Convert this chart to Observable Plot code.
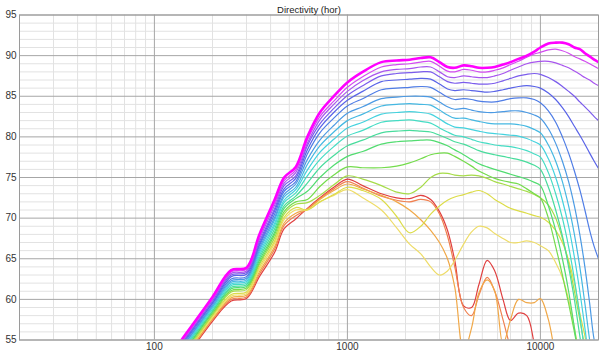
<!DOCTYPE html>
<html><head><meta charset="utf-8">
<script src="https://cdn.jsdelivr.net/npm/d3@7"></script>
<script src="https://cdn.jsdelivr.net/npm/@observablehq/plot@0.6"></script>
<style>
html,body{margin:0;padding:0;background:#fff;}
</style></head><body><div id="chart"></div>
<script>
const title = "Directivity (hor)";
const freqs = [120,160,200,250,300,350,420,470,540,620,720,850,1000,1200,1500,1800,2100,2400,2700,3000,3300,3600,4000,4400,4800,5300,5800,6400,7000,7700,8500,9300,10000,11000,12000,13000,14000,15000,16000,17000,18000,19000,20000];

const deg0 = [53.0,57.1,60.3,63.6,63.9,68.0,72.3,75.0,76.3,80.0,83.0,85.0, 86.7,88.0,89.2,89.4,89.5,89.7,89.8,89.2,88.6,88.5,88.8,88.7,88.5,88.5,88.6,88.9,89.2,89.6,90.0,90.5,91.0,91.5,91.6,91.6,91.4,91.0,90.8,90.3,89.9,89.5,89.2];
const deg10 = [52.9,56.9,60.1,63.4,63.7,67.7,71.9,74.6,75.9,79.6,82.5,84.4, 86.1,87.4,88.6,88.9,89.0,89.2,89.3,88.7,88.1,88.0,88.3,88.2,88.0,88.0,88.2,88.5,88.9,89.3,89.8,90.2,90.4,90.7,90.8,90.6,90.3,89.9,89.6,89.3,89.0,88.7,88.4];
const deg20 = [52.7,56.8,60.0,63.2,63.5,67.4,71.6,74.3,75.6,79.2,82.1,84.0, 85.6,86.9,88.0,88.3,88.4,88.6,88.6,88.0,87.4,87.3,87.5,87.4,87.3,87.3,87.5,87.8,88.2,88.6,89.0,89.2,89.3,89.3,89.1,88.8,88.5,88.1,87.7,87.3,87.0,86.6,86.3];
const deg30 = [52.6,56.6,59.8,63.0,63.3,67.1,71.2,74.0,75.2,78.9,81.6,83.5, 85.1,86.3,87.5,87.8,87.9,88.0,88.0,87.4,86.8,86.6,86.7,86.6,86.5,86.5,86.6,86.9,87.2,87.5,87.7,87.8,87.7,87.3,86.8,86.2,85.6,85.0,84.3,83.7,83.1,82.5,82.0];
const deg40 = [52.4,56.5,59.6,62.8,63.1,66.8,70.9,73.6,74.9,78.4,81.1,83.0, 84.5,85.6,86.8,87.0,87.1,87.2,87.1,86.5,85.9,85.7,85.8,85.7,85.6,85.5,85.6,85.8,86.0,86.2,86.3,86.2,86.0,85.4,84.6,83.6,82.5,81.3,80.2,79.1,78.0,77.0,76.1];
const deg50 = [52.3,56.3,59.5,62.5,62.8,66.6,70.5,73.3,74.5,77.9,80.5,82.3, 83.8,84.7,85.8,86.0,86.1,86.2,86.1,85.5,84.9,84.6,84.7,84.6,84.4,84.3,84.3,84.5,84.7,84.8,84.8,84.6,84.2,83.2,81.8,80.0,78.0,75.8,73.5,71.0,68.5,66.5,65.0];
const deg60 = [52.1,56.1,59.3,62.3,62.6,66.3,70.1,72.9,74.2,77.2,79.6,81.4, 82.9,83.7,84.7,84.9,85.0,85.0,84.9,84.3,83.7,83.4,83.5,83.3,83.1,83.0,83.0,83.1,83.2,83.2,83.0,82.7,82.3,81.0,79.2,77.0,74.5,71.5,68.0,64.0,59.5,55.0,53.0];
const deg70 = [52.0,56.0,59.1,62.1,62.4,66.0,69.8,72.6,73.8,76.6,78.9,80.6, 82.0,82.8,83.8,84.0,84.1,84.0,83.9,83.3,82.7,82.3,82.3,82.1,81.9,81.7,81.6,81.6,81.6,81.5,81.3,80.9,80.5,79.0,77.0,74.5,71.5,68.0,64.0,59.5,55.0,51.5,50.0];
const deg80 = [51.8,55.8,59.0,61.9,62.2,65.7,69.4,72.2,73.5,75.9,78.1,79.7, 81.1,81.8,82.8,83.0,83.1,83.0,82.8,82.2,81.6,81.2,81.1,80.9,80.7,80.5,80.4,80.3,80.2,80.1,79.8,79.4,79.0,77.3,75.0,72.2,69.0,65.2,61.0,56.5,52.0,49.0,48.0];
const deg90 = [51.7,55.7,58.8,61.7,62.0,65.4,69.1,71.9,73.1,75.2,77.2,78.8, 80.1,80.8,81.8,82.0,82.1,81.9,81.7,81.1,80.6,80.2,80.0,79.7,79.4,79.2,79.0,78.9,78.8,78.6,78.3,77.9,77.5,75.6,73.0,70.0,66.5,62.5,58.0,53.5,50.0,48.0,47.0];
const deg100 = [51.5,55.5,58.6,61.5,61.8,65.1,68.7,71.5,72.7,74.3,76.2,77.7, 78.9,79.6,80.5,80.7,80.8,80.7,80.6,80.2,79.8,79.4,79.1,78.7,78.3,78.0,77.8,77.6,77.4,77.2,76.9,76.5,76.0,73.8,71.0,67.8,64.0,60.0,55.5,51.5,49.0,47.0,46.0];
const deg110 = [51.4,55.3,58.5,61.3,61.6,64.8,68.3,71.2,72.4,73.3,75.0,76.5, 77.6,78.2,79.1,79.4,79.5,79.6,79.6,79.3,78.9,78.4,77.8,77.2,76.7,76.3,76.0,75.7,75.4,75.1,74.8,74.4,74.0,71.5,68.5,65.0,61.0,56.5,52.0,49.0,47.0,46.0,45.0];
const deg120 = [51.2,55.2,58.3,61.1,61.4,64.5,68.0,70.8,72.0,72.3,73.9,75.3, 76.3,76.2,76.2,76.4,76.8,77.3,77.8,78.0,78.0,77.6,77.0,76.4,75.8,75.3,74.9,74.6,74.4,74.2,73.6,73.0,72.5,70.0,66.5,63.0,59.5,56.0,52.5,49.5,47.0,46.0,45.0];
const deg130 = [51.1,55.0,58.1,60.9,61.2,64.3,67.6,70.5,71.7,71.9,72.8,74.1, 75.2,74.8,74.0,73.2,73.0,73.8,75.0,75.5,75.5,75.3,75.2,75.3,75.2,74.9,74.5,74.2,73.9,73.6,73.3,72.9,72.5,71.6,70.0,67.5,64.5,61.0,57.5,54.0,51.0,49.0,48.0];
const deg140 = [50.9,54.8,58.0,60.6,60.9,64.0,67.2,70.1,71.3,71.0,72.0,72.9, 73.8,73.4,72.3,70.2,68.2,69.0,70.5,71.5,72.2,72.6,72.9,73.2,73.4,73.0,72.3,71.7,71.2,70.9,70.6,70.3,70.1,69.5,68.5,67.0,64.8,62.0,58.3,55.5,52.0,50.0,48.0];
const deg150 = [50.8,54.7,57.8,60.4,60.7,63.7,66.9,69.8,71.0,71.0,72.0,72.8, 73.5,72.5,71.0,68.8,66.8,65.6,64.0,63.0,63.5,64.8,66.8,68.3,69.0,68.8,68.1,67.5,67.0,67.0,67.2,67.0,66.6,66.0,64.5,62.7,60.0,56.5,53.0,50.5,49.0,48.0,47.0];
const deg160 = [50.6,54.5,57.6,60.2,60.5,63.4,66.5,69.4,70.6,71.1,72.3,73.4, 74.2,73.6,72.8,72.0,71.0,69.8,68.5,67.0,65.0,61.5,53.5,56.5,60.8,62.4,61.0,54.5,57.5,60.0,59.6,59.6,60.1,57.5,53.0,50.0,48.0,47.0,46.0,46.0,45.0,45.0,45.0];
const deg170 = [50.5,54.4,57.5,60.0,60.3,63.1,66.2,69.1,70.3,71.1,72.4,73.6, 74.5,73.7,72.7,72.2,72.0,72.3,72.0,70.5,67.8,64.0,59.0,58.0,60.5,62.7,61.0,57.5,54.0,51.0,49.0,47.0,46.0,45.0,45.0,45.0,45.0,45.0,45.0,45.0,45.0,45.0,45.0];
const deg180 = [50.3,54.2,57.3,59.8,60.1,62.8,65.8,68.7,69.9,71.2,72.5,73.8, 74.8,74.0,73.0,72.5,72.4,72.8,72.3,70.8,68.5,64.8,59.2,59.0,61.8,64.8,63.5,60.0,57.4,58.3,58.0,54.5,51.0,48.0,46.0,45.0,45.0,45.0,45.0,45.0,45.0,45.0,45.0];

const series = [deg0,deg10,deg20,deg30,deg40,deg50,deg60,deg70,deg80,deg90,deg100,deg110,deg120,deg130,deg140,deg150,deg160,deg170,deg180];
const palette = ["#ff00ff","#d24cf0","#a855ee","#7b5cec","#5a64e8","#4f7de6","#4b9ae4","#45b8e2","#44d2de","#44dcc4","#48dc9c","#52dc70","#74dc4c","#a6dc48","#dcdc48","#eedc68","#f0a848","#f08050","#e04040"];

const xMajor = [100, 1000, 10000];
const xMinor = [30,40,50,60,70,80,90,200,300,400,500,600,700,800,900,2000,3000,4000,5000,6000,7000,8000,9000];
const yMajor = [55,60,65,70,75,80,85,90,95];
const yMinor = [56,57,58,59,61,62,63,64,66,67,68,69,71,72,73,74,76,77,78,79,81,82,83,84,86,87,88,89,91,92,93,94];

const rows = [];
series.forEach((vals, k) => vals.forEach((v, j) => rows.push({f: freqs[j], db: v, k})));

const marks = [
  Plot.ruleX(xMinor, {stroke: "#e2e2e2", strokeWidth: 1}),
  Plot.ruleY(yMinor, {stroke: "#e2e2e2", strokeWidth: 1}),
  Plot.ruleX(xMajor, {stroke: "#a6a6a6", strokeWidth: 1}),
  Plot.ruleY(yMajor, {stroke: "#a6a6a6", strokeWidth: 1})
];
for (let k = series.length - 1; k >= 0; k--) {
  marks.push(Plot.line(rows.filter(r => r.k === k), {
    x: "f", y: "db", stroke: palette[k], strokeWidth: k === 0 ? 2.6 : 1.2,
    curve: "catmull-rom", clip: true
  }));
}
marks.push(Plot.frame({stroke: "#9a9a9a"}));
marks.push(Plot.text([title], {frameAnchor: "top", dy: -8.5, text: d => d, fontSize: 9.5, fill: "#222"}));

const chart = Plot.plot({
  width: 613, height: 359,
  marginLeft: 19, marginRight: 15, marginTop: 14.5, marginBottom: 19.5,
  style: {fontFamily: "'Liberation Sans', Arial, sans-serif", fontSize: "10px", color: "#333", background: "#fff"},
  x: {type: "log", domain: [20, 20000], ticks: xMajor, tickFormat: d => String(d), tickSize: 0, tickPadding: 3, label: null},
  y: {domain: [55, 95], ticks: yMajor, tickSize: 0, tickPadding: 3, label: null},
  marks
});
document.getElementById("chart").appendChild(chart);
</script></body></html>
